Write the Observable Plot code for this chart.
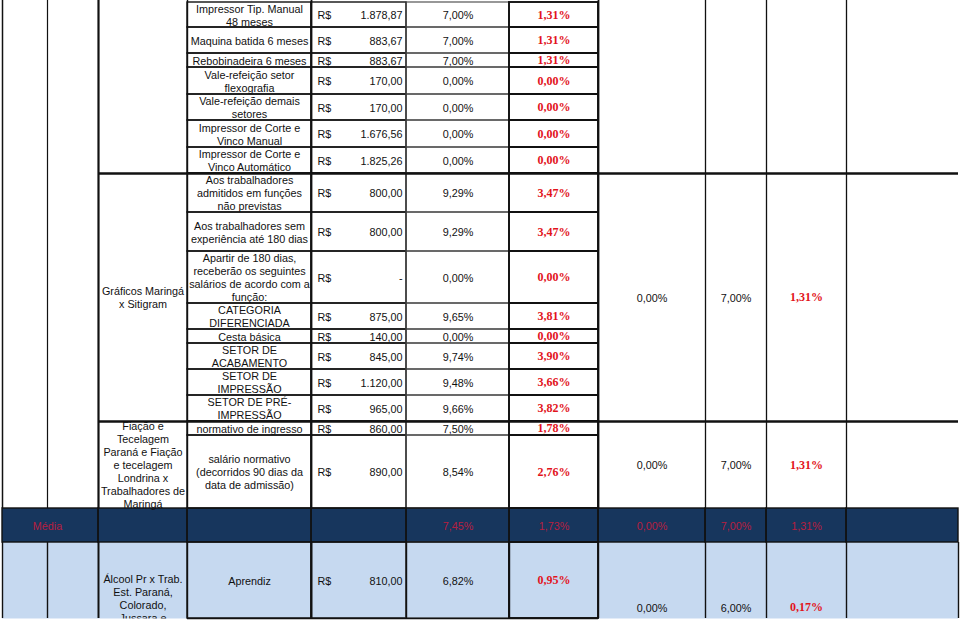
<!DOCTYPE html>
<html><head><meta charset="utf-8">
<script src="https://cdn.jsdelivr.net/npm/d3@7"></script>
<script src="https://cdn.jsdelivr.net/npm/@observablehq/plot@0.6"></script>
<style>html,body{margin:0;padding:0;background:#fff;} #chart svg{display:block;}</style>
</head><body><div id="chart"></div>
<script>
// ---------- DATA ----------
const items = [
  "Impressor Tip. Manual\n48 meses",
  "Maquina batida 6 meses",
  "Rebobinadeira 6 meses",
  "Vale-refeição setor\nflexografia",
  "Vale-refeição demais\nsetores",
  "Impressor de Corte e\nVinco Manual",
  "Impressor de Corte e\nVinco Automático",
  "Aos trabalhadores\nadmitidos em funções\nnão previstas",
  "Aos trabalhadores sem\nexperiência até 180 dias",
  "Apartir de 180 dias,\nreceberão os seguintes\nsalários de acordo com a\nfunção:",
  "CATEGORIA\nDIFERENCIADA",
  "Cesta básica",
  "SETOR DE\nACABAMENTO",
  "SETOR DE\nIMPRESSÃO",
  "SETOR DE PRÉ-\nIMPRESSÃO",
  "normativo de ingresso",
  "salário normativo\n(decorridos 90 dias da\ndata de admissão)"
];
const moeda = "R$";
const valores = ["1.878,87","883,67","883,67","170,00","170,00","1.676,56","1.825,26","800,00","800,00","-","875,00","140,00","845,00","1.120,00","965,00","860,00","890,00"];
const reajuste = ["7,00%","7,00%","7,00%","0,00%","0,00%","0,00%","0,00%","9,29%","9,29%","0,00%","9,65%","0,00%","9,74%","9,48%","9,66%","7,50%","8,54%"];
const aumentoReal = ["1,31%","1,31%","1,31%","0,00%","0,00%","0,00%","0,00%","3,47%","3,47%","0,00%","3,81%","0,00%","3,90%","3,66%","3,82%","1,78%","2,76%"];

const grupos = ["", "Gráficos Maringá\nx Sitigram", "Fiação e\nTecelagem\nParaná e Fiação\ne tecelagem\nLondrina x\nTrabalhadores de\nMaringá"];
const grupoPisoPct = ["", "0,00%", "0,00%"];
const grupoReajuste = ["", "7,00%", "7,00%"];
const grupoReal = ["", "1,31%", "1,31%"];

const mediaLabel = "Média";
const mediaValores = ["7,45%", "1,73%", "0,00%", "7,00%", "1,31%"];

const ultimoGrupo = "Álcool Pr x Trab.\nEst. Paraná,\nColorado,\nJussara e";
const ultimoItem = "Aprendiz";
const ultimoValor = "810,00";
const ultimoReajuste = "6,82%";
const ultimoReal = "0,95%";
const ultimoGrupoVals = ["0,00%", "6,00%", "0,17%"];

// ---------- LAYOUT ----------
const colEdges = [2, 47, 98, 187, 311, 406, 509, 598, 705, 766, 846, 958];
const rowEdges = [-20, 2, 27, 53, 67, 94, 120, 147, 173, 212, 251, 303, 329, 343, 369, 395, 421, 435, 508, 542, 618, 672];
const groupSpans = [[0, 8], [8, 16], [16, 18]];
const MEDIA = 18, LAST = 19, LASTEND = 20, LASTGROUPEND = 21;

const ys = d3.scaleLinear().domain(d3.range(rowEdges.length)).range(rowEdges);
const ymid = (a, b) => ys.invert((rowEdges[a] + rowEdges[b]) / 2);

const NAVY = "#17365d", LIGHT = "#c6d9f0", RED = "#e2141c", MRED = "#b81e40", INK = "#111";
const SANS = "Liberation Sans, Arial, sans-serif", SERIF = "Liberation Serif, Times New Roman, serif";
const FS = 10.8, LH = 1.2;

// ---------- TABLES ----------
const rows = items.map((t, i) => ({r1: i + 1, r2: i + 2, item: t, valor: valores[i], reaj: reajuste[i], real: aumentoReal[i]}));
const lastRow = {r1: LAST, r2: LASTEND, item: ultimoItem, valor: ultimoValor, reaj: ultimoReajuste, real: ultimoReal};
const allRows = [...rows, lastRow];

const groups = grupos.map((g, i) => ({r1: groupSpans[i][0], r2: groupSpans[i][1], name: g, a: grupoPisoPct[i], b: grupoReajuste[i], c: grupoReal[i]}));

const cellsBy = (cols) => allRows.flatMap(r => cols.map(([c1, c2]) => ({c1, c2, r1: r.r1, r2: r.r2})));

const mediaCells = [[0,2],[2,3],[3,4],[4,5],[5,6],[6,7],[7,8],[8,9],[9,10],[10,11]].map(([c1,c2]) => ({c1, c2}));
const mediaTexts = mediaValores.map((v, i) => ({x: 5.5 + i, v}));
const lastFills = [[0,1,LASTGROUPEND],[1,2,LASTGROUPEND],[2,3,LASTGROUPEND],[3,4,LASTEND],[4,5,LASTEND],[5,6,LASTEND],[6,7,LASTEND],[7,8,LASTGROUPEND],[8,9,LASTGROUPEND],[9,10,LASTGROUPEND],[10,11,LASTGROUPEND]].map(([c1,c2,r2]) => ({c1, c2, r2}));
const lastGroupTexts = ultimoGrupoVals.map((v, i) => ({x: 7.5 + i, v, red: i === 2}));

// vertical lines in the body (rows 0..18)
const vlines = [
  {x: 0, w: 1.5}, {x: 1, w: 1.2}, {x: 2, w: 2.2}, {x: 3, w: 1.4},
  {x: 7, w: 1.8}, {x: 8, w: 1.3}, {x: 9, w: 1.3}, {x: 10, w: 1.3}
];
const hThick = [8, 16];

const textBase = {fontFamily: SANS, fontSize: FS, lineHeight: LH, fill: INK};
const redBase = {fontFamily: SERIF, fontSize: 12, fontWeight: "bold", fill: RED};

const plot = Plot.plot({
  width: 960, height: 623,
  margin: 0,
  x: {type: "linear", domain: d3.range(colEdges.length), range: colEdges, axis: null},
  y: {type: "linear", domain: d3.range(rowEdges.length), range: rowEdges, axis: null},
  style: {background: "#fff", fontFamily: SANS},
  marks: [
    // fills
    Plot.rect(mediaCells, {x1: "c1", x2: "c2", y1: MEDIA, y2: LAST, fill: NAVY}),
    Plot.rect(lastFills, {x1: "c1", x2: "c2", y1: LAST, y2: "r2", fill: LIGHT}),

    // group names (col 2)
    Plot.text(groups, {x: 2.5, y: d => ymid(d.r1, d.r2), text: "name", ...textBase}),
    // group percentages (cols 7-9)
    Plot.text(groups, {x: 7.5, y: d => ymid(d.r1, d.r2), text: "a", ...textBase}),
    Plot.text(groups, {x: 8.5, y: d => ymid(d.r1, d.r2), text: "b", ...textBase}),
    Plot.text(groups, {x: 9.5, y: d => ymid(d.r1, d.r2), text: "c", ...redBase}),

    // item rows
    Plot.text(allRows, {x: 3.5, y: d => ymid(d.r1, d.r2), text: "item", ...textBase}),
    Plot.text(allRows, {x: 4, y: d => ymid(d.r1, d.r2), text: () => moeda, textAnchor: "start", dx: 6, ...textBase}),
    Plot.text(allRows, {x: 5, y: d => ymid(d.r1, d.r2), text: "valor", textAnchor: "end", dx: -4, ...textBase}),
    Plot.text(allRows, {x: 5.5, y: d => ymid(d.r1, d.r2), text: "reaj", ...textBase}),
    Plot.text(allRows, {x: 6.5, y: d => ymid(d.r1, d.r2), text: "real", ...redBase}),

    // média row
    Plot.text([mediaLabel], {x: 1, y: ymid(MEDIA, LAST), text: d => d, ...textBase, fill: MRED}),
    Plot.text(mediaTexts, {x: "x", y: ymid(MEDIA, LAST), text: "v", ...textBase, fill: MRED}),

    // last (light blue) row
    Plot.text([ultimoGrupo], {x: 2.5, y: ymid(LAST, LASTEND), text: d => d, lineAnchor: "top", dy: -7, ...textBase}),
    Plot.text(lastGroupTexts.filter(d => !d.red), {x: "x", y: ymid(LAST, LASTGROUPEND), text: "v", ...textBase}),
    Plot.text(lastGroupTexts.filter(d => d.red), {x: "x", y: ymid(LAST, LASTGROUPEND), text: "v", ...redBase}),

    // clip everything below the last visible row
    Plot.rect([0], {x1: 0, x2: colEdges.length - 1, y1: LASTEND, y2: LASTGROUPEND, fill: "#fff", insetTop: 0.5}),

    // item cell borders
    Plot.rect(cellsBy([[3,4],[4,5]]), {x1: "c1", x2: "c2", y1: "r1", y2: "r2", fill: "none", stroke: INK, strokeWidth: 1.4}),
    Plot.rect(cellsBy([[5,6]]), {x1: "c1", x2: "c2", y1: "r1", y2: "r2", fill: "none", stroke: "#444", strokeWidth: 1.1}),
    Plot.rect(cellsBy([[6,7]]), {x1: "c1", x2: "c2", y1: "r1", y2: "r2", fill: "none", stroke: INK, strokeWidth: 1.9}),
    Plot.ruleX([4], {y1: 0, y2: MEDIA, stroke: INK, strokeWidth: 1.8}),

    // body vertical lines
    Plot.ruleX(vlines, {x: "x", y1: 0, y2: MEDIA, stroke: INK, strokeWidth: "w"}),
    // group separators
    Plot.ruleY(hThick, {y: d => d, x1: 2, x2: colEdges.length - 1, stroke: INK, strokeWidth: 2.4}),

    // média row borders
    Plot.rect(mediaCells, {x1: "c1", x2: "c2", y1: MEDIA, y2: LAST, fill: "none", stroke: INK, strokeWidth: 1.4}),
    // last row borders
    Plot.ruleX(d3.range(colEdges.length), {x: d => d, y1: LAST, y2: LASTEND, stroke: INK, strokeWidth: d => (d === 2 || d === 4 ? 2 : 1.4)}),
    Plot.ruleY([LASTEND], {y: d => d, x1: 3, x2: 7, stroke: INK, strokeWidth: 1.5})
  ]
});
document.getElementById("chart").appendChild(plot);
</script>
</body></html>
